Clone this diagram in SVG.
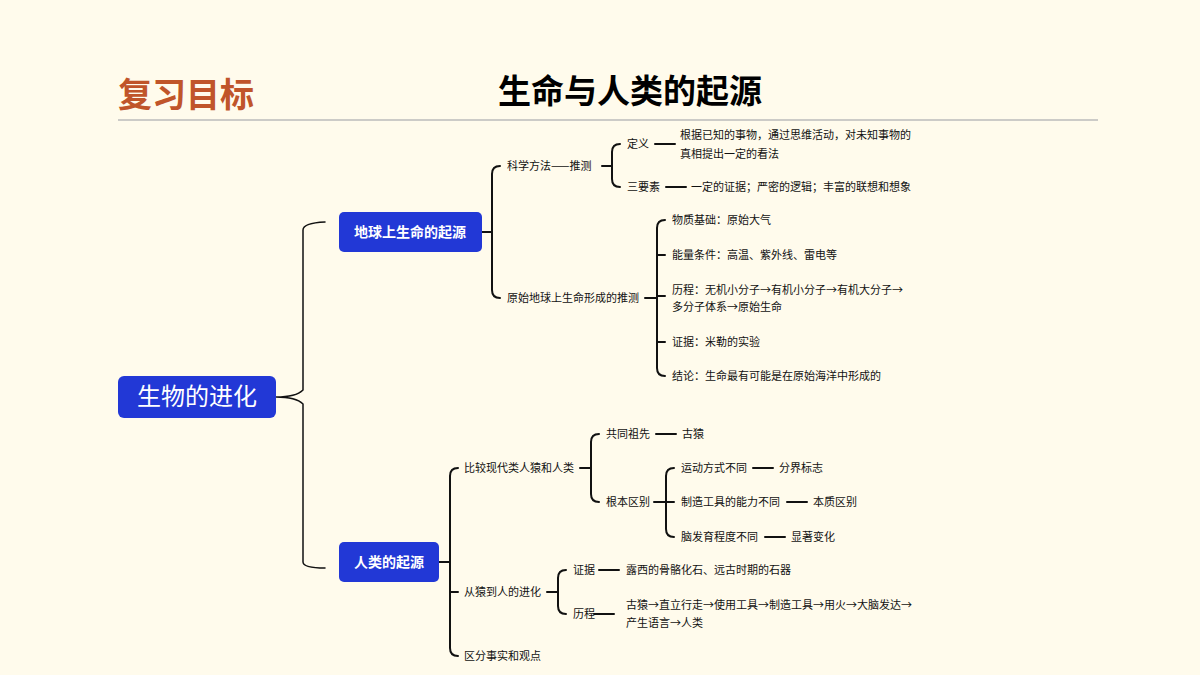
<svg xmlns="http://www.w3.org/2000/svg" width="1200" height="675" viewBox="0 0 1200 675">
<style>
.t{font-family:"Noto Sans CJK SC","Noto Sans",sans-serif;font-size:11px;fill:#111}
.nb{fill:#2238d6}
.nt{font-family:"Noto Sans CJK SC",sans-serif;font-weight:bold;font-size:14px;fill:#fff;text-anchor:middle}
.c{fill:none;stroke:#111;stroke-width:2;stroke-linecap:round}
</style>
<rect width="1200" height="675" fill="#fffbec"/>
<text x="118" y="107" font-family="Noto Sans CJK SC,sans-serif" font-weight="bold" font-size="34" fill="#c0552a">复习目标</text>
<text x="630" y="103" text-anchor="middle" font-family="Noto Sans CJK SC,sans-serif" font-weight="bold" font-size="33" fill="#000">生命与人类的起源</text>
<line x1="118" y1="120" x2="1098" y2="120" stroke="#bbb" stroke-width="1.5"/>
<g id="connectors">
<path class="c" style="stroke-width:1.5" d="M276,397 Q296,397 303,390 V230 Q303,223 325,222 M276,397 Q296,397 303,404 V562 Q303,568 325,568"/>
<path class="c" d="M482,232 H492 M500,166 Q492,166 492,174 V290 Q492,298 500,298"/>
<path class="c" d="M602,166 H612 M620,144 Q612,144 612,152 V179 Q612,187 620,187 M655,144 H675 M666,187 H686"/>
<path class="c" d="M645,298 H657 M665,220 Q657,220 657,228 V368 Q657,376 665,376 M657,255 H665 M657,296 H665 M657,342 H665"/>
<path class="c" d="M439,562 H450 M458,468 Q450,468 450,476 V648 Q450,656 458,656 M450,592 H458"/>
<path class="c" d="M580,468 H591 M599,434 Q591,434 591,442 V494 Q591,502 599,502 M656,434 H676"/>
<path class="c" d="M654,502 H666 M674,468 Q666,468 666,476 V529 Q666,537 674,537 M666,502 H674 M753,468 H773 M787,502 H807 M765,537 H785"/>
<path class="c" d="M547,592 H558 M566,570 Q558,570 558,578 V606 Q558,614 566,614 M599,570 H619 M594,614 H614"/>
</g>
<g id="root"><rect class="nb" x="118" y="376" width="158" height="42" rx="6"/><text x="197" y="405" text-anchor="middle" font-family="Noto Sans CJK SC,sans-serif" font-size="24" fill="#fff">生物的进化</text></g>
<g id="n1"><rect class="nb" x="339" y="212" width="143" height="40" rx="5"/><text class="nt" x="410" y="237">地球上生命的起源</text></g>
<g id="n2"><rect class="nb" x="339" y="542" width="100" height="40" rx="5"/><text class="nt" x="389" y="567">人类的起源</text></g>
<g id="n1-children">
<text class="t" x="507" y="170">科学方法——推测</text>
<text class="t" x="627" y="148">定义</text>
<text class="t" x="680" y="139">根据已知的事物，通过思维活动，对未知事物的</text>
<text class="t" x="680" y="158">真相提出一定的看法</text>
<text class="t" x="627" y="191">三要素</text>
<text class="t" x="691" y="191">一定的证据；严密的逻辑；丰富的联想和想象</text>
<text class="t" x="507" y="302">原始地球上生命形成的推测</text>
<text class="t" x="672" y="224">物质基础：原始大气</text>
<text class="t" x="672" y="259">能量条件：高温、紫外线、雷电等</text>
<text class="t" x="672" y="294">历程：无机小分子→有机小分子→有机大分子→</text>
<text class="t" x="672" y="311">多分子体系→原始生命</text>
<text class="t" x="672" y="346">证据：米勒的实验</text>
<text class="t" x="672" y="380">结论：生命最有可能是在原始海洋中形成的</text>
</g>
<g id="n2-children">
<text class="t" x="464" y="472">比较现代类人猿和人类</text>
<text class="t" x="606" y="438">共同祖先</text>
<text class="t" x="682" y="438">古猿</text>
<text class="t" x="606" y="506">根本区别</text>
<text class="t" x="681" y="472">运动方式不同</text>
<text class="t" x="779" y="472">分界标志</text>
<text class="t" x="681" y="506">制造工具的能力不同</text>
<text class="t" x="813" y="506">本质区别</text>
<text class="t" x="681" y="541">脑发育程度不同</text>
<text class="t" x="791" y="541">显著变化</text>
<text class="t" x="464" y="596">从猿到人的进化</text>
<text class="t" x="573" y="574">证据</text>
<text class="t" x="626" y="574">露西的骨骼化石、远古时期的石器</text>
<text class="t" x="573" y="618">历程</text>
<text class="t" x="626" y="609">古猿→直立行走→使用工具→制造工具→用火→大脑发达→</text>
<text class="t" x="626" y="627">产生语言→人类</text>
<text class="t" x="464" y="660">区分事实和观点</text>
</g>
</svg>
